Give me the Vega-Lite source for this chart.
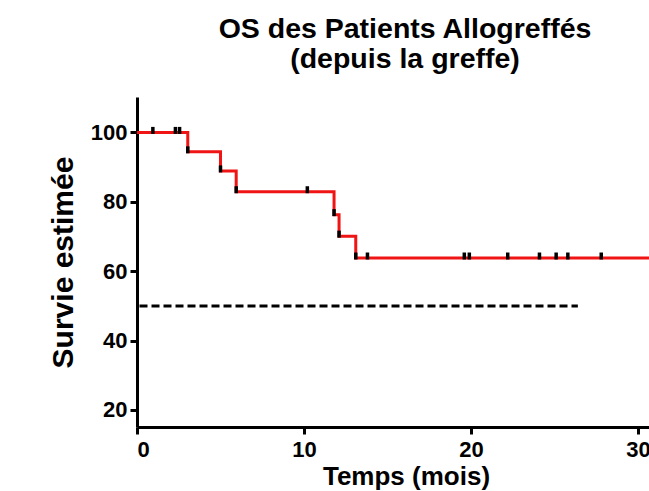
{
  "$schema": "https://vega.github.io/schema/vega-lite/v6.json",
  "autosize": {"type": "none"},
  "width": 512,
  "height": 330,
  "padding": {"left": 137, "top": 97, "right": 0, "bottom": 64},
  "background": "white",
  "config": {
    "view": {"stroke": null},
    "font": "Liberation Sans",
    "axis": {
      "grid": false,
      "domainColor": "black",
      "domainWidth": 3,
      "tickColor": "black",
      "tickWidth": 3,
      "tickSize": 7,
      "labelColor": "black",
      "labelFont": "Liberation Sans",
      "labelFontWeight": "bold",
      "labelFontSize": 22,
      "titleColor": "black",
      "titleFont": "Liberation Sans",
      "titleFontWeight": "bold"
    }
  },
  "title": {
    "text": ["OS des Patients Allogreffés", "(depuis la greffe)"],
    "fontSize": 28.5,
    "fontWeight": "bold",
    "font": "Liberation Sans",
    "color": "black",
    "lineHeight": 30,
    "offset": 24,
    "dx": 12,
    "anchor": "middle"
  },
  "datasets": {
    "km": [
      {"t": 0, "s": 100},
      {"t": 3.04, "s": 94.4},
      {"t": 5.0, "s": 88.9},
      {"t": 5.94, "s": 82.9},
      {"t": 11.8, "s": 76.3},
      {"t": 12.1, "s": 70.1},
      {"t": 13.1, "s": 63.8},
      {"t": 31, "s": 63.8}
    ],
    "censor": [
      {"t": 0.95, "s": 100},
      {"t": 2.3, "s": 100},
      {"t": 2.55, "s": 100},
      {"t": 3.04, "s": 94.4},
      {"t": 5.0, "s": 88.9},
      {"t": 5.94, "s": 82.9},
      {"t": 10.2, "s": 82.9},
      {"t": 11.8, "s": 76.3},
      {"t": 12.1, "s": 70.1},
      {"t": 13.1, "s": 63.8},
      {"t": 13.8, "s": 63.8},
      {"t": 19.6, "s": 63.8},
      {"t": 19.9, "s": 63.8},
      {"t": 22.2, "s": 63.8},
      {"t": 24.1, "s": 63.8},
      {"t": 25.1, "s": 63.8},
      {"t": 25.8, "s": 63.8},
      {"t": 27.8, "s": 63.8}
    ],
    "median": [
      {"t": 0.15, "s": 50},
      {"t": 26.4, "s": 50}
    ]
  },
  "layer": [
    {
      "data": {"name": "median"},
      "mark": {"type": "line", "color": "black", "strokeWidth": 3, "strokeDash": [8, 4], "clip": true},
      "encoding": {
        "x": {"field": "t", "type": "quantitative", "scale": {"domain": [0, 30.66], "nice": false, "zero": false},
          "axis": {"values": [0, 10, 20, 30], "title": "Temps (mois)", "titleFontSize": 26, "labelPadding": 5, "titlePadding": 3, "titleX": 269}},
        "y": {"field": "s", "type": "quantitative", "scale": {"domain": [15.1, 110.2], "nice": false, "zero": false},
          "axis": {"values": [20, 40, 60, 80, 100], "title": "Survie estimée", "titleFontSize": 30, "labelPadding": 3, "titlePadding": 12}}
      }
    },
    {
      "data": {"name": "km"},
      "mark": {"type": "line", "color": "#f01414", "strokeWidth": 3, "interpolate": "step-after", "clip": true},
      "encoding": {
        "x": {"field": "t", "type": "quantitative"},
        "y": {"field": "s", "type": "quantitative"}
      }
    },
    {
      "data": {"name": "censor"},
      "mark": {"type": "tick", "color": "black", "orient": "vertical", "size": 7, "thickness": 3.5, "yOffset": -2, "opacity": 1},
      "encoding": {
        "x": {"field": "t", "type": "quantitative"},
        "y": {"field": "s", "type": "quantitative"}
      }
    }
  ]
}
